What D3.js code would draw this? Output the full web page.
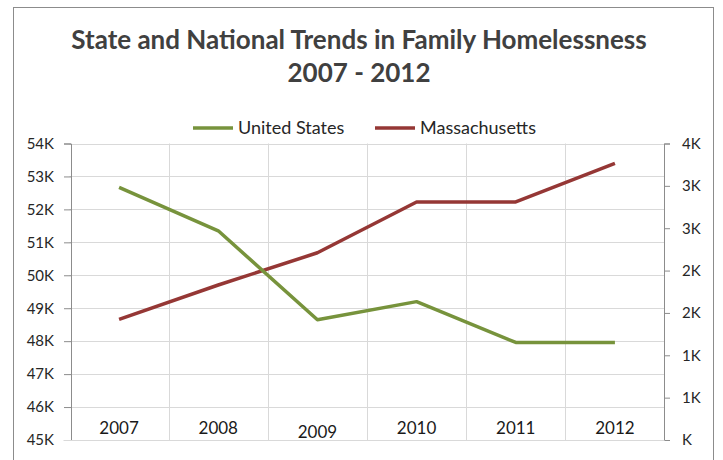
<!DOCTYPE html>
<html>
<head>
<meta charset="utf-8">
<script src="https://cdn.jsdelivr.net/npm/d3@7"></script>
<style>
  body { margin: 0; background: #fff; }
  svg { display: block; font-family: Lato, "Open Sans", sans-serif; }
</style>
</head>
<body>
<svg id="chart"></svg>
<script>
// data
const years = ['2007', '2008', '2009', '2010', '2011', '2012']
const unitedStates = [52670, 51350, 48650, 49200, 47960, 47960]
const massachusetts = [1425, 1830, 2210, 2810, 2810, 3265]
const leftTicks = [45000, 46000, 47000, 48000, 49000, 50000, 51000, 52000, 53000, 54000]
const leftTickLabels = ['45K', '46K', '47K', '48K', '49K', '50K', '51K', '52K', '53K', '54K']
const rightTicks = [0, 500, 1000, 1500, 2000, 2500, 3000, 3500]
const rightTickLabels = ['K', '1K', '1K', '2K', '2K', '3K', '3K', '4K']
const seriesNames = ['United States', 'Massachusetts']

const width = 723, height = 460
const plotLeft = 69.5, plotRight = 664.5, plotTop = 143.5, plotBottom = 440
const green = '#77933c', red = '#953735'

const svg = d3.select('#chart')
  .attr('width', width)
  .attr('height', height)

// chart frame
svg.append('rect')
  .attr('x', 13.5).attr('y', 7.5)
  .attr('width', 700).attr('height', 470)
  .attr('fill', '#fff')
  .attr('stroke', '#8c8c8c')

// scales
const x = d3.scaleBand().domain(years).range([plotLeft, plotRight])
const yLeft = d3.scaleLinear().domain([45000, 54000]).range([plotBottom, plotTop])
const yRight = d3.scaleLinear().domain([0, 3500]).range([plotBottom, plotTop])

// gridlines
svg.append('g')
  .selectAll('line')
  .data(leftTicks)
  .join('line')
  .attr('x1', plotLeft).attr('x2', plotRight)
  .attr('y1', d => Math.round(yLeft(d)) + 0.5)
  .attr('y2', d => Math.round(yLeft(d)) + 0.5)
  .attr('stroke', '#d9d9d9')

svg.append('g')
  .selectAll('line')
  .data(years.slice(1))
  .join('line')
  .attr('x1', d => Math.round(x(d)) + 0.5)
  .attr('x2', d => Math.round(x(d)) + 0.5)
  .attr('y1', plotTop).attr('y2', plotBottom)
  .attr('stroke', '#d9d9d9')

// axes
const leftAxis = d3.axisLeft(yLeft)
  .tickValues(leftTicks)
  .tickFormat((d, i) => leftTickLabels[i])
  .tickSize(7)
  .tickPadding(10)

const rightAxis = d3.axisRight(yRight)
  .tickValues(rightTicks)
  .tickFormat((d, i) => rightTickLabels[i])
  .tickSize(6)
  .tickPadding(12)

const gl = svg.append('g')
  .attr('transform', `translate(${plotLeft + 1.5},0)`)
  .call(leftAxis)

const gr = svg.append('g')
  .attr('transform', `translate(${plotRight - 0.5},0)`)
  .call(rightAxis)

for (const g of [gl, gr]) {
  g.select('.domain').attr('stroke', '#8c8c8c')
  g.selectAll('.tick line').attr('stroke', '#8c8c8c')
  g.selectAll('.tick text')
    .attr('fill', '#262626')
    .style('font-size', '15px')
    .style('font-family', 'Lato, sans-serif')
}

// category axis: line at bottom, labels sit inside the plot
svg.append('line')
  .attr('x1', plotLeft - 6).attr('x2', plotRight)
  .attr('y1', plotBottom + 0.5).attr('y2', plotBottom + 0.5)
  .attr('stroke', '#d9d9d9')

svg.append('g')
  .selectAll('text')
  .data(years)
  .join('text')
  .attr('x', d => x(d) + x.bandwidth() / 2)
  // 2009 sits a few pixels lower in the original
  .attr('y', d => d === '2009' ? 438 : 434)
  .attr('text-anchor', 'middle')
  .attr('fill', '#1a1a1a')
  .style('font-size', '17px')
  .text(d => d)

// lines
const lineLeft = d3.line()
  .x((d, i) => x(years[i]) + x.bandwidth() / 2)
  .y(d => yLeft(d))

const lineRight = d3.line()
  .x((d, i) => x(years[i]) + x.bandwidth() / 2)
  .y(d => yRight(d))

svg.append('path')
  .datum(massachusetts)
  .attr('d', lineRight)
  .attr('fill', 'none')
  .attr('stroke', red)
  .attr('stroke-width', 3.5)
  .attr('stroke-linejoin', 'round')

svg.append('path')
  .datum(unitedStates)
  .attr('d', lineLeft)
  .attr('fill', 'none')
  .attr('stroke', green)
  .attr('stroke-width', 3.5)
  .attr('stroke-linejoin', 'round')

// title
const title = svg.append('text')
  .attr('text-anchor', 'middle')
  .attr('fill', '#404040')
  .style('font-size', '26px')
  .style('font-weight', 'bold')
title.append('tspan').attr('x', 359).attr('y', 49).text('State and National Trends in Family Homelessness')
title.append('tspan').attr('x', 359).attr('y', 82).text('2007 - 2012')

// legend
const legend = svg.append('g')
  .selectAll('g')
  .data(seriesNames)
  .join('g')
  .attr('transform', (d, i) => `translate(${i === 0 ? 193 : 375},128)`)

legend.append('line')
  .attr('x1', 0).attr('x2', 40)
  .attr('stroke', (d, i) => i === 0 ? green : red)
  .attr('stroke-width', 3.5)

legend.append('text')
  .attr('x', 45).attr('y', 6)
  .attr('fill', '#262626')
  .style('font-size', '18px')
  .text(d => d)
</script>
</body>
</html>
